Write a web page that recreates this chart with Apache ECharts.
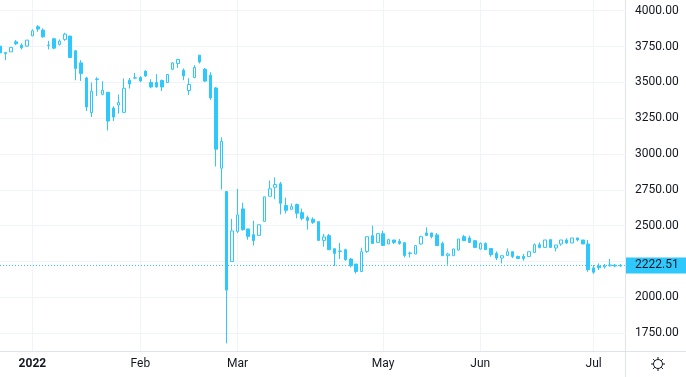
<!DOCTYPE html>
<html>
<head>
<meta charset="utf-8">
<title>Index 2022</title>
<script src="https://cdn.jsdelivr.net/npm/echarts@6/dist/echarts.min.js"></script>
<style>
html, body { margin: 0; padding: 0; background: #ffffff; }
#chart { width: 686px; height: 377px; }
</style>
</head>
<body>
<div id="chart"></div>
<script>
// trading days shown on the chart
var dates = [
  '2021-12-23','2021-12-24','2021-12-27','2021-12-28','2021-12-29','2021-12-30',
  '2022-01-03','2022-01-04','2022-01-05','2022-01-06','2022-01-10','2022-01-11','2022-01-12','2022-01-13','2022-01-14',
  '2022-01-17','2022-01-18','2022-01-19','2022-01-20','2022-01-21','2022-01-24','2022-01-25','2022-01-26','2022-01-27','2022-01-28','2022-01-31',
  '2022-02-01','2022-02-02','2022-02-03','2022-02-04','2022-02-07','2022-02-08','2022-02-09','2022-02-10','2022-02-11',
  '2022-02-14','2022-02-15','2022-02-16','2022-02-17','2022-02-18','2022-02-21','2022-02-22','2022-02-24','2022-02-25',
  '2022-03-24','2022-03-25','2022-03-28','2022-03-29','2022-03-30','2022-03-31',
  '2022-04-01','2022-04-04','2022-04-05','2022-04-06','2022-04-07','2022-04-08','2022-04-11','2022-04-12','2022-04-13','2022-04-14','2022-04-15',
  '2022-04-18','2022-04-19','2022-04-20','2022-04-21','2022-04-22','2022-04-25','2022-04-26','2022-04-27','2022-04-28','2022-04-29',
  '2022-05-04','2022-05-05','2022-05-06','2022-05-11','2022-05-12','2022-05-13','2022-05-16','2022-05-17','2022-05-18','2022-05-19','2022-05-20',
  '2022-05-23','2022-05-24','2022-05-25','2022-05-26','2022-05-27','2022-05-30','2022-05-31',
  '2022-06-01','2022-06-02','2022-06-03','2022-06-06','2022-06-07','2022-06-08','2022-06-09','2022-06-10','2022-06-14','2022-06-15','2022-06-16','2022-06-17',
  '2022-06-20','2022-06-21','2022-06-22','2022-06-23','2022-06-24','2022-06-27','2022-06-28','2022-06-29','2022-06-30',
  '2022-07-01','2022-07-04','2022-07-05','2022-07-06','2022-07-07','2022-07-08'
];

var open = [
  3753,3708,3713,3783,3760,3753,
  3825,3888,3865,3760,3804,3765,3800,3823,3720,3636,3531,3289,3520,3417,3431,3321,3342,3291,3515,3530,
  3534,3578,3499,3499,3513,3499,3592,3632,3585,3443,3534,3690,3592,3550,3461,2901,2738,2250,
  2460,2617,2477,2437,2432,2530,
  2705,2768,2792,2640,2614,2647,2591,2556,2544,2528,2397,2430,2339,2323,2332,2267,2232,2180,2320,2430,2383,
  2444,2372,2400,2390,2381,2309,2302,2372,2449,2449,2435,2376,2290,2290,2330,2423,2414,2395,
  2337,2376,2341,2306,2274,2292,2318,2285,2285,2285,2313,2367,2348,2402,2344,2372,2400,2379,2414,2400,2372,
  2205,2218,2212,2220,2224,2218
];
var close = [
  3706,3702,3744,3769,3741,3795,
  3860,3872,3818,3757,3739,3788,3837,3674,3597,3562,3328,3438,3524,3445,3230,3258,3359,3459,3489,3532,
  3510,3545,3468,3468,3468,3555,3636,3660,3545,3485,3604,3643,3509,3391,3034,3088,2050,2463,
  2575,2472,2425,2396,2506,2701,
  2757,2787,2656,2607,2632,2587,2551,2537,2523,2397,2421,2332,2306,2321,2262,2220,2180,2318,2423,2376,2444,
  2362,2402,2383,2376,2292,2307,2360,2423,2432,2423,2360,2290,2302,2337,2407,2395,2383,2348,
  2376,2332,2297,2274,2290,2318,2285,2271,2271,2318,2367,2348,2400,2348,2365,2400,2379,2414,2400,2372,2192,
  2175,2206,2220,2226,2218,2222.51
];
var low = [
  3700,3655,3713,3760,3730,3748,
  3823,3853,3811,3730,3732,3758,3790,3670,3515,3510,3300,3258,3405,3410,3165,3230,3282,3286,3457,3524,
  3501,3538,3459,3464,3440,3499,3585,3601,3515,3412,3529,3632,3502,3378,2913,2752,1678,2250,
  2449,2465,2402,2361,2432,2530,
  2705,2684,2578,2585,2614,2551,2537,2472,2512,2397,2353,2330,2218,2267,2255,2208,2166,2180,2309,2376,2383,
  2362,2372,2372,2367,2278,2278,2302,2367,2432,2411,2360,2290,2227,2290,2325,2395,2383,2348,
  2332,2332,2283,2260,2236,2292,2274,2271,2255,2285,2313,2341,2348,2348,2320,2360,2372,2379,2390,2372,2178,
  2164,2190,2200,2215,2210,2212
];
var high = [
  3760,3713,3744,3795,3772,3795,
  3870,3900,3877,3790,3811,3800,3846,3825,3725,3655,3538,3499,3536,3508,3431,3333,3415,3527,3531,3566,
  3543,3585,3522,3557,3520,3555,3641,3664,3597,3529,3620,3690,3600,3571,3468,3116,2738,2547,
  2757,2660,2477,2535,2506,2701,
  2815,2837,2805,2695,2654,2654,2619,2570,2558,2528,2442,2442,2339,2379,2339,2274,2232,2346,2423,2500,2444,
  2465,2409,2400,2407,2381,2318,2365,2430,2488,2449,2449,2388,2311,2339,2407,2435,2430,2395,
  2383,2383,2341,2320,2290,2341,2318,2290,2302,2318,2376,2383,2400,2407,2365,2400,2411,2414,2414,2400,2400,
  2225,2236,2232,2268,2232,2232
];

// time axis labels
var tickDates = ['2022-01-03', '2022-02-01', '2022-03-24', '2022-05-04', '2022-06-01', '2022-07-01'];
var tickText = ['2022', 'Feb', 'Mar', 'May', 'Jun', 'Jul'];

var CANDLE = '#2fc8fc';
var TEXT = '#131722';
var GRID = '#f0f3fa';
var BORDER = '#e0e3eb';

var candles = dates.map(function (d, i) {
  return [open[i], close[i], low[i], high[i]];
});
var tickIdx = tickDates.map(function (d) { return dates.indexOf(d); });
function isTick(index) { return tickIdx.indexOf(index) >= 0; }

var myChart = echarts.init(document.getElementById('chart'));
myChart.setOption({
  animation: false,
  textStyle: { fontFamily: 'Roboto' },
  grid: { left: -1, right: 60, top: 0, bottom: 26 },
  xAxis: {
    type: 'category',
    data: dates,
    boundaryGap: false,
    min: 0,
    max: dates.length,
    axisLine: { show: false },
    axisTick: { show: false },
    axisLabel: {
      interval: function (index) { return isTick(index); },
      margin: 7,
      color: TEXT,
      fontSize: 12,
      fontFamily: 'Roboto',
      formatter: function (value) {
        var k = tickDates.indexOf(value);
        if (k < 0) return '';
        return k === 0 ? '{y|' + tickText[k] + '}' : tickText[k];
      },
      rich: {
        y: { fontWeight: 'bold', fontSize: 12, color: TEXT, fontFamily: 'Roboto' }
      }
    },
    splitLine: {
      show: true,
      interval: function (index) { return isTick(index); },
      lineStyle: { color: GRID, width: 1 }
    }
  },
  yAxis: {
    type: 'value',
    position: 'right',
    min: 1625,
    max: 4075,
    interval: 125,
    axisLine: { show: false },
    axisTick: { show: false },
    axisLabel: {
      margin: 9,
      color: TEXT,
      fontSize: 12,
      fontFamily: 'Roboto',
      formatter: function (v) {
        if (v % 250 !== 0 || v === 2250) return '';
        return v.toFixed(2);
      }
    },
    splitLine: {
      show: true,
      // only every second line (multiples of 250) is visible
      lineStyle: { color: ['rgba(0,0,0,0)', GRID], width: 1 }
    }
  },
  series: [
    {
      type: 'candlestick',
      data: candles,
      barWidth: 3,
      itemStyle: {
        color: '#ffffff',
        color0: CANDLE,
        borderColor: CANDLE,
        borderColor0: CANDLE,
        borderColorDoji: CANDLE,
        borderWidth: 1
      },
      markLine: {
        silent: true,
        symbol: 'none',
        animation: false,
        lineStyle: { color: CANDLE, type: [1, 2], width: 1 },
        label: {
          position: 'end',
          distance: 0,
          formatter: function (p) { return p.value.toFixed(2); },
          backgroundColor: CANDLE,
          color: TEXT,
          fontSize: 12,
          fontFamily: 'Roboto',
          lineHeight: 12,
          padding: [2, 9, 2, 9]
        },
        data: [{ yAxis: close[close.length - 1] }]
      }
    }
  ],
  graphic: [
    { type: 'line', silent: true, shape: { x1: 625.5, y1: 0, x2: 625.5, y2: 377 }, style: { stroke: BORDER, lineWidth: 1 } },
    { type: 'line', silent: true, shape: { x1: 0, y1: 351.5, x2: 686, y2: 351.5 }, style: { stroke: BORDER, lineWidth: 1 } },
    {
      type: 'group',
      x: 658, y: 364,
      silent: true,
      children: [
        { type: 'circle', shape: { cx: 0, cy: 0, r: 4.5 }, style: { fill: 'none', stroke: TEXT, lineWidth: 1 } },
        { type: 'line', shape: { x1: 0, y1: -4.5, x2: 0, y2: -7 }, style: { stroke: TEXT, lineWidth: 1 } },
        { type: 'line', shape: { x1: 0, y1: 4.5, x2: 0, y2: 7 }, style: { stroke: TEXT, lineWidth: 1 } },
        { type: 'line', shape: { x1: -4.5, y1: 0, x2: -7, y2: 0 }, style: { stroke: TEXT, lineWidth: 1 } },
        { type: 'line', shape: { x1: 4.5, y1: 0, x2: 7, y2: 0 }, style: { stroke: TEXT, lineWidth: 1 } },
        { type: 'line', shape: { x1: 3.2, y1: 3.2, x2: 4.9, y2: 4.9 }, style: { stroke: TEXT, lineWidth: 1 } },
        { type: 'line', shape: { x1: -3.2, y1: 3.2, x2: -4.9, y2: 4.9 }, style: { stroke: TEXT, lineWidth: 1 } },
        { type: 'line', shape: { x1: 3.2, y1: -3.2, x2: 4.9, y2: -4.9 }, style: { stroke: TEXT, lineWidth: 1 } },
        { type: 'line', shape: { x1: -3.2, y1: -3.2, x2: -4.9, y2: -4.9 }, style: { stroke: TEXT, lineWidth: 1 } }
      ]
    }
  ]
});
window.addEventListener('resize', function () {
  myChart.resize();
});
</script>
</body>
</html>
